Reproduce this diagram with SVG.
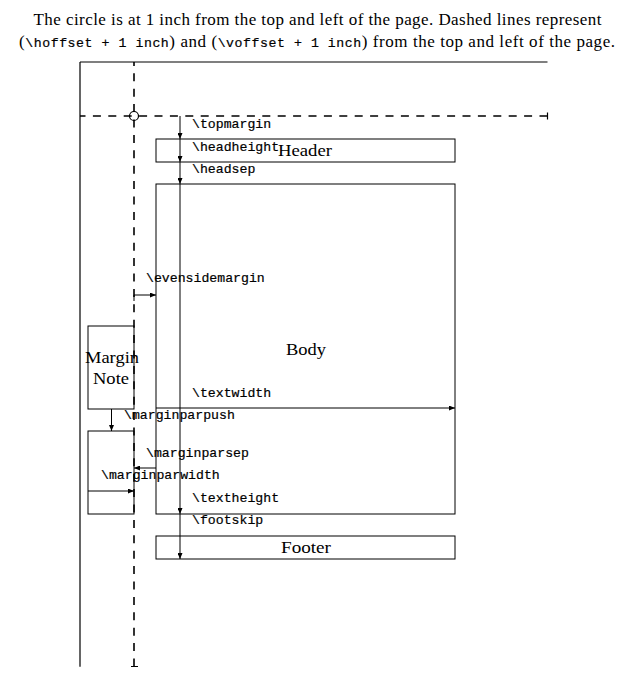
<svg xmlns="http://www.w3.org/2000/svg" width="635" height="691" viewBox="0 0 635 691">
<style>
.serif{font-family:"Liberation Serif","DejaVu Serif",serif;font-size:17px;fill:#000}
.mono{font-family:"Liberation Mono","DejaVu Sans Mono",monospace;font-size:13.2px;fill:#000;stroke:#000;stroke-width:0.2}
.box{fill:none;stroke:#000;stroke-width:1}
.ln{fill:none;stroke:#000;stroke-width:1.2}
.dash{fill:none;stroke:#000;stroke-width:1.6;stroke-dasharray:8 7.4}
.arr{fill:none;stroke:#000;stroke-width:1;marker-end:url(#ah)}
</style>
<defs>
<marker id="ah" markerUnits="userSpaceOnUse" markerWidth="7" markerHeight="5" refX="6" refY="2.5" orient="auto">
<path d="M0,0 L6,2.5 L0,5 z" fill="#000"/>
</marker>
</defs>
<rect width="635" height="691" fill="#fff"/>
<g id="title">
<text class="serif" x="317.5" y="25" text-anchor="middle" textLength="568" lengthAdjust="spacing">The circle is at 1 inch from the top and left of the page. Dashed lines represent</text>
<text class="serif" x="317" y="47" text-anchor="middle" textLength="596" lengthAdjust="spacing">(<tspan class="mono" font-size="13.6">\hoffset + 1 inch</tspan>) and (<tspan class="mono" font-size="13.6">\voffset + 1 inch</tspan>) from the top and left of the page.</text>
</g>
<g id="page">
<path class="ln" d="M80,62 H547.5 M80,62 V666.7"/>
<path class="dash" d="M134,666.5 V62"/>
<path class="dash" d="M547.5,116 H80"/>
<path class="ln" d="M131,666.5 H138 M547.5,112.5 V119.5"/>
<circle cx="134" cy="116" r="4.5" fill="none" stroke="#000" stroke-width="1.2"/>
</g>
<g id="header">
<rect class="box" x="156" y="139" width="299" height="23"/>
<text class="serif" x="278" y="156" textLength="54" lengthAdjust="spacingAndGlyphs">Header</text>
</g>
<g id="body">
<rect class="box" x="156" y="184" width="299" height="330"/>
<text class="serif" x="286" y="355" textLength="40" lengthAdjust="spacingAndGlyphs">Body</text>
</g>
<g id="footer">
<rect class="box" x="156" y="536" width="299" height="23"/>
<text class="serif" x="281" y="553" textLength="50" lengthAdjust="spacingAndGlyphs">Footer</text>
</g>
<g id="marginnote">
<rect class="box" x="88" y="326" width="46" height="83"/>
<text class="serif" x="112" y="363" text-anchor="middle" textLength="54" lengthAdjust="spacingAndGlyphs">Margin</text>
<text class="serif" x="111" y="384" text-anchor="middle" textLength="36" lengthAdjust="spacingAndGlyphs">Note</text>
</g>
<g id="marginbox">
<rect class="box" x="88" y="431" width="46" height="83"/>
</g>
<g id="connectors">
<path class="arr" d="M180,116 V139"/>
<path class="arr" d="M180,139 V162"/>
<path class="arr" d="M180,162 V184"/>
<path class="arr" d="M180,184 V514"/>
<path class="arr" d="M180,514 V559"/>
<path class="arr" d="M134,301 V295 H156"/>
<path class="arr" d="M156,408 H455"/>
<path class="arr" d="M111.5,409 V431"/>
<path class="arr" d="M156,468 H134"/>
<path class="arr" d="M88,491 H134"/>
</g>
<g id="labels">
<text class="mono" x="192" y="128">\topmargin</text>
<text class="mono" x="192" y="151">\headheight</text>
<text class="mono" x="192" y="173">\headsep</text>
<text class="mono" x="146" y="282">\evensidemargin</text>
<text class="mono" x="192" y="397">\textwidth</text>
<text class="mono" x="124" y="419">\marginparpush</text>
<text class="mono" x="146" y="457">\marginparsep</text>
<text class="mono" x="101" y="479">\marginparwidth</text>
<text class="mono" x="192" y="502">\textheight</text>
<text class="mono" x="192" y="524">\footskip</text>
</g>
</svg>
